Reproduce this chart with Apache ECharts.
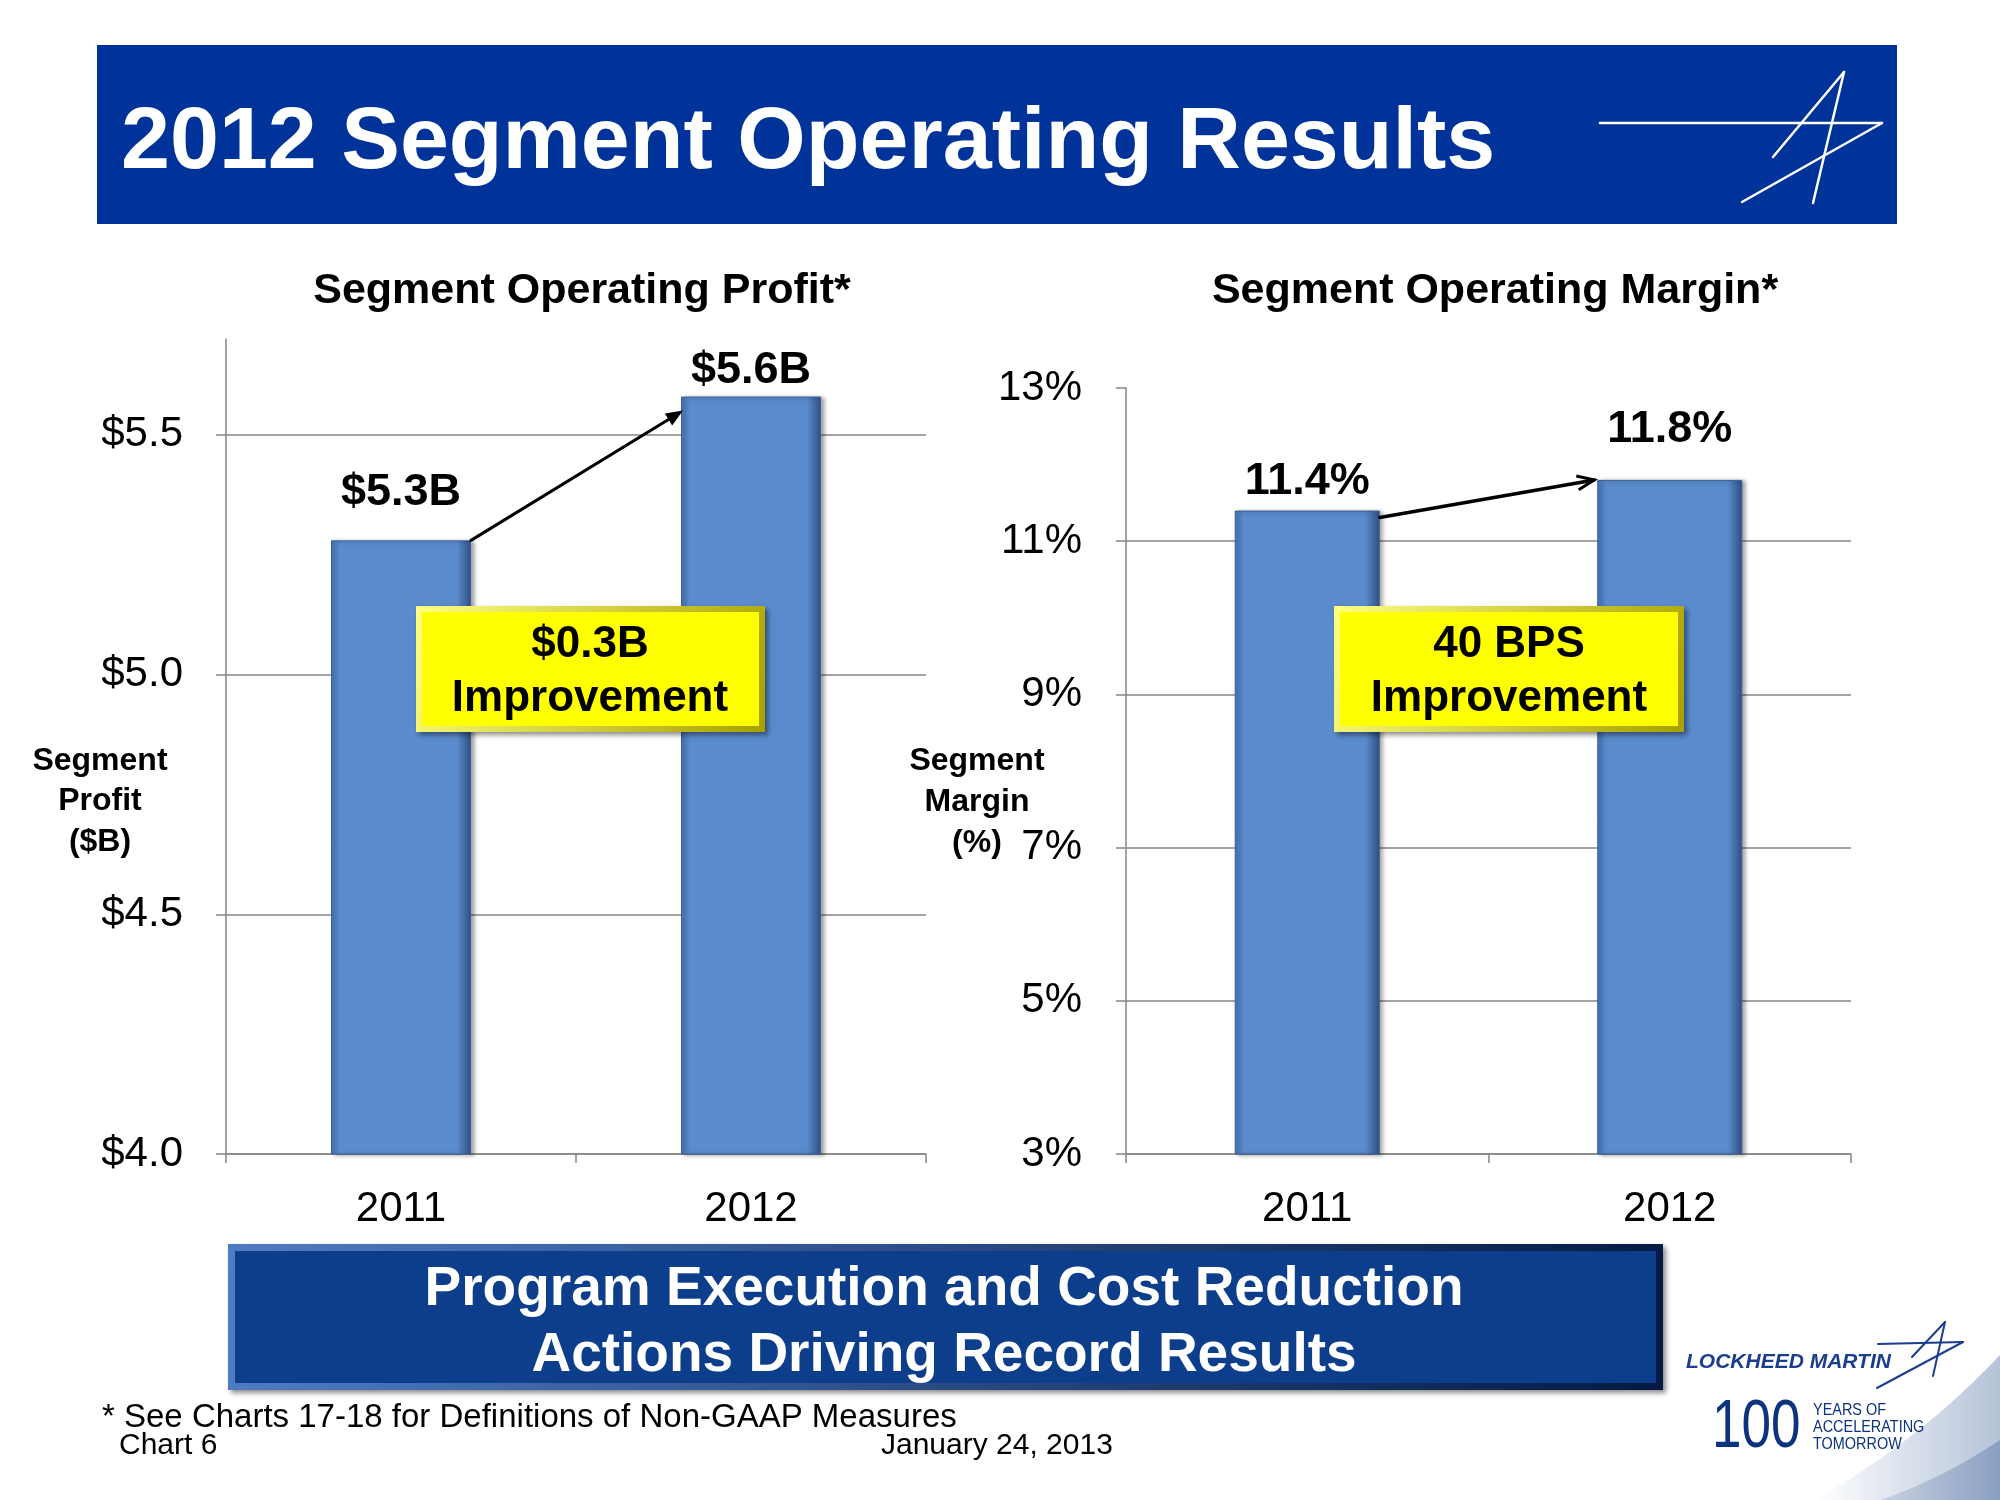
<!DOCTYPE html>
<html><head><meta charset="utf-8">
<script src="https://cdn.jsdelivr.net/npm/echarts@6/dist/echarts.min.js"></script>
<style>html,body{margin:0;padding:0;background:#fff}#c{width:2000px;height:1500px}</style>
</head><body><div id="c"></div>
<script>
// ---- data ----
const years = ['2011', '2012'];
const profitValues = [5.28, 5.58];
const profitLabels = ['$5.3B', '$5.6B'];
const marginValues = [11.4, 11.8];
const marginLabels = ['11.4%', '11.8%'];
const profitAxis = { min: 4.0, max: 5.7, interval: 0.5 };
const marginAxis = { min: 3, max: 13, interval: 2 };
const profitLabelGap = [25, 3];
const marginLabelGap = [6, 28];

const F = '"Liberation Sans", Arial, Helvetica, sans-serif';
const GRID = '#868686';

const barStyle = {
  color: new echarts.graphic.LinearGradient(0, 0, 1, 0, [
    { offset: 0, color: '#4674b4' },
    { offset: 0.06, color: '#5a8bcd' },
    { offset: 0.9, color: '#5a8bcd' },
    { offset: 1, color: '#2e4f82' }
  ]),
  borderColor: '#3b5f94',
  borderWidth: 1,
  shadowColor: 'rgba(0,0,0,0.35)',
  shadowBlur: 4,
  shadowOffsetX: 3,
  shadowOffsetY: 1
};

function xAxisCfg(gi) {
  return {
    type: 'category', gridIndex: gi, data: years,
    axisLine: { show: true, lineStyle: { color: GRID, width: 1.5 } },
    axisTick: { show: true, length: 9, lineStyle: { color: GRID, width: 1.5 } },
    axisLabel: { fontSize: 42, color: '#000', fontFamily: F, margin: 34 }
  };
}
function yAxisCfg(gi, ax, fmt, margin) {
  return {
    type: 'value', gridIndex: gi, min: ax.min, max: ax.max, interval: ax.interval,
    axisLine: { show: true, lineStyle: { color: GRID, width: 1.5 } },
    axisTick: { show: true, length: 10, lineStyle: { color: GRID, width: 1.5 } },
    splitLine: { show: true, showMaxLine: false, lineStyle: { color: GRID, width: 1.5 } },
    axisLabel: { fontSize: 42, color: '#000', fontFamily: F, margin: margin, formatter: fmt, showMaxLabel: gi === 1 }
  };
}
function barData(vals, labels, gaps) {
  return vals.map((v, i) => ({
    value: v,
    label: { show: true, position: 'top', distance: gaps[i], formatter: labels[i],
      fontSize: 45, fontWeight: 'bold', color: '#000', fontFamily: F }
  }));
}

const chart = echarts.init(document.getElementById('c'), null, { renderer: 'canvas' });
const option = {
  backgroundColor: '#ffffff',
  animation: false,
  grid: [
    { left: 226, top: 339, width: 700, height: 815 },
    { left: 1126, top: 388, width: 725, height: 766 }
  ],
  xAxis: [xAxisCfg(0), xAxisCfg(1)],
  yAxis: [
    yAxisCfg(0, profitAxis, v => '$' + v.toFixed(1), 43),
    yAxisCfg(1, marginAxis, v => v + '%', 44)
  ],
  series: [
    { type: 'bar', xAxisIndex: 0, yAxisIndex: 0, barWidth: '40%', itemStyle: barStyle,
      data: barData(profitValues, profitLabels, profitLabelGap), z: 3 },
    { type: 'bar', xAxisIndex: 1, yAxisIndex: 1, barWidth: '40%', itemStyle: barStyle,
      data: barData(marginValues, marginLabels, marginLabelGap), z: 3 }
  ]
};
chart.setOption(option);

// ---- annotation graphics ----
function txt(text, x, y, size, opts) {
  opts = opts || {};
  return {
    type: 'text', z: opts.z || 120, scaleX: opts.sx || 1, x: x, y: y,
    style: {
      text: text, x: 0, y: 0,
      font: (opts.italic ? 'italic ' : '') + (opts.weight || 'bold') + ' ' + size + 'px ' + (opts.family || F),
      fill: opts.fill || '#000',
      textAlign: opts.align || 'center', align: opts.align || 'center',
      textVerticalAlign: 'middle', verticalAlign: 'middle'
    }
  };
}
function line(x1, y1, x2, y2, color, w, z) {
  return { type: 'line', z: z || 110, shape: { x1, y1, x2, y2 },
    style: { stroke: color, lineWidth: w, lineCap: 'round' } };
}
function arrow(p, q, filled) {
  const dx = q[0] - p[0], dy = q[1] - p[1];
  const L = Math.hypot(dx, dy), ux = dx / L, uy = dy / L;
  const hl = 17, hw = 7;
  const bx = q[0] - ux * hl, by = q[1] - uy * hl;
  const a = [bx - uy * hw, by + ux * hw], b = [bx + uy * hw, by - ux * hw];
  const els = [];
  if (filled) {
    els.push(line(p[0], p[1], bx, by, '#000', 3));
    els.push({ type: 'polygon', z: 111, shape: { points: [q, a, b] }, style: { fill: '#000' } });
  } else {
    els.push(line(p[0], p[1], q[0], q[1], '#000', 3.5));
    els.push({ type: 'polyline', z: 111, shape: { points: [a, q, b] },
      style: { stroke: '#000', lineWidth: 3, fill: null } });
  }
  return els;
}
function bevelRect(x, y, w, h, c1, c2, inner, inset, z) {
  return [
    { type: 'rect', z: z, shape: { x, y, width: w, height: h },
      style: { fill: new echarts.graphic.LinearGradient(0, 0, 1, 1, [
        { offset: 0, color: c1 }, { offset: 1, color: c2 }]),
        shadowColor: 'rgba(0,0,0,0.45)', shadowBlur: 5, shadowOffsetX: 3, shadowOffsetY: 3 } },
    { type: 'rect', z: z + 1, shape: { x: x + inset, y: y + inset, width: w - 2 * inset, height: h - 2 * inset },
      style: { fill: inner } }
  ];
}
// closed region under a quadratic curve (decorative swoosh)
function swoosh(p0, c, p1, extra, fill, z) {
  const pts = [];
  for (let i = 0; i <= 24; i++) {
    const t = i / 24, u = 1 - t;
    pts.push([u * u * p0[0] + 2 * u * t * c[0] + t * t * p1[0], u * u * p0[1] + 2 * u * t * c[1] + t * t * p1[1]]);
  }
  return { type: 'polygon', z: z, shape: { points: pts.concat(extra) }, style: { fill: fill } };
}

const pA0 = chart.convertToPixel({ gridIndex: 0 }, [years[0], profitValues[0]]);
const pA1 = chart.convertToPixel({ gridIndex: 0 }, [years[1], profitValues[1]]);
const hA = (pA1[0] - pA0[0]) * 0.2;
const pB0 = chart.convertToPixel({ gridIndex: 1 }, [years[0], marginValues[0]]);
const pB1 = chart.convertToPixel({ gridIndex: 1 }, [years[1], marginValues[1]]);
const hB = (pB1[0] - pB0[0]) * 0.2;

const LOGO = '#1b3d8f';
const graphics = [].concat(
  // title banner
  [{ type: 'rect', z: 100, shape: { x: 97, y: 45, width: 1800, height: 179 }, style: { fill: '#003399' } }],
  [txt('2012 Segment Operating Results', 121, 144, 88, { align: 'left', fill: '#fff' })],
  [line(1600, 123, 1882, 123, '#fff', 2.5, 121), line(1882, 123, 1742, 202, '#fff', 2.5, 121),
   line(1844, 72, 1813, 203, '#fff', 2.5, 121), line(1844, 72, 1773, 157, '#fff', 2.5, 121)],
  // chart titles
  [txt('Segment Operating Profit*', 582, 291, 43), txt('Segment Operating Margin*', 1495, 291, 43)],
  // axis names
  [txt('Segment', 100, 761, 32), txt('Profit', 100, 801, 32), txt('($B)', 100, 842, 32),
   txt('Segment', 977, 761, 32), txt('Margin', 977, 802, 32), txt('(%)', 977, 843, 32)],
  // arrows
  arrow([pA0[0] + hA, pA0[1]], [pA1[0] - hA + 2, pA1[1] + 14], true),
  arrow([pB0[0] + hB, pB0[1] + 7], [pB1[0] - hB - 3, pB1[1]], false),
  // yellow boxes
  bevelRect(416, 606, 349, 126, '#ffff80', '#a8a000', '#ffff00', 6, 130),
  [txt('$0.3B', 590, 645, 44, { z: 140 }), txt('Improvement', 590, 699, 44, { z: 140 })],
  bevelRect(1334, 606, 350, 126, '#ffff80', '#a8a000', '#ffff00', 6, 130),
  [txt('40 BPS', 1509, 645, 44, { z: 140 }), txt('Improvement', 1509, 699, 44, { z: 140 })],
  // bottom banner
  bevelRect(228, 1244, 1435, 146, '#4f7cc4', '#041a44', '#0c3e8c', 7, 130),
  [txt('Program Execution and Cost Reduction', 944, 1290, 55, { fill: '#fff', z: 140 }),
   txt('Actions Driving Record Results', 944, 1356, 55, { fill: '#fff', z: 140 })],
  // footnotes
  [txt('* See Charts 17-18 for Definitions of Non-GAAP Measures', 102, 1418, 33, { align: 'left', weight: 'normal' }),
   txt('Chart 6', 119, 1446, 30, { align: 'left', weight: 'normal' }),
   txt('January 24, 2013', 881, 1446, 30, { align: 'left', weight: 'normal' })],
  // swoosh
  [swoosh([2000, 1355], [1920, 1440], [1815, 1500], [[2000, 1500]],
     new echarts.graphic.LinearGradient(0, 0, 1, 0, [
       { offset: 0, color: '#ffffff' }, { offset: 1, color: '#b5c3d8' }]), 90),
   swoosh([2000, 1440], [1940, 1480], [1880, 1500], [[2000, 1500]],
     new echarts.graphic.LinearGradient(0, 0, 1, 0, [
       { offset: 0, color: '#c8d2e2' }, { offset: 1, color: '#8a9fc1' }]), 91)],
  // logo
  [txt('LOCKHEED MARTIN', 1686, 1362, 21, { align: 'left', italic: true, fill: LOGO }),
   line(1878, 1344, 1963, 1342, LOGO, 2, 121), line(1963, 1342, 1877, 1388, LOGO, 2, 121),
   line(1945, 1322, 1933, 1376, LOGO, 2, 121), line(1945, 1322, 1912, 1357, LOGO, 2, 121),
   txt('100', 1712, 1428, 68, { align: 'left', weight: 'normal', fill: '#0c3380', sx: 0.78 }),
   txt('YEARS OF', 1813, 1410, 17, { align: 'left', weight: 'normal', fill: '#0c3380', sx: 0.85 }),
   txt('ACCELERATING', 1813, 1427, 17, { align: 'left', weight: 'normal', fill: '#0c3380', sx: 0.85 }),
   txt('TOMORROW', 1813, 1444, 17, { align: 'left', weight: 'normal', fill: '#0c3380', sx: 0.85 })]
);
chart.setOption({ graphic: { elements: graphics } });
</script>
</body></html>
